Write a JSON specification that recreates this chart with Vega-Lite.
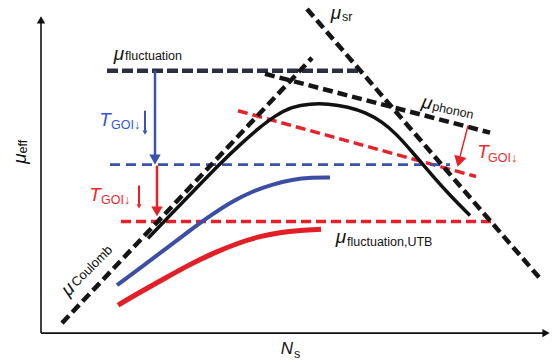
{
  "$schema": "https://vega.github.io/schema/vega-lite/v6.json",
  "width": 552,
  "height": 362,
  "autosize": {"type": "fit", "contains": "padding"},
  "padding": 0,
  "background": "white",
  "view": {"stroke": null},
  "config": {"font": "Liberation Sans"},
  "datasets": {
    "axes": [
      {"id": "y", "Ns": 41, "mu": 29}, {"id": "y", "Ns": 41, "mu": 342},
      {"id": "x", "Ns": 41, "mu": 29}, {"id": "x", "Ns": 546, "mu": 29}
    ],
    "headUp": [{"Ns": 41, "mu": 343}],
    "headRight": [{"Ns": 546, "mu": 29}],
    "fluct": [{"id": "f", "Ns": 107, "mu": 292}, {"id": "f", "Ns": 360, "mu": 292}],
    "blackDashed": [
      {"id": "coulomb", "Ns": 62, "mu": 39}, {"id": "coulomb", "Ns": 312, "mu": 305},
      {"id": "sr", "Ns": 307, "mu": 354}, {"id": "sr", "Ns": 539, "mu": 85},
      {"id": "phonon", "Ns": 265, "mu": 289}, {"id": "phonon", "Ns": 490, "mu": 230}
    ],
    "blueDashed": [{"id": "b", "Ns": 110, "mu": 198}, {"id": "b", "Ns": 450, "mu": 198}],
    "redDashed": [
      {"id": "h", "Ns": 121, "mu": 141}, {"id": "h", "Ns": 493, "mu": 141},
      {"id": "s", "Ns": 238, "mu": 252}, {"id": "s", "Ns": 476, "mu": 186}
    ],
    "blackCurve": [
      {"Ns": 148, "mu": 124}, {"Ns": 170, "mu": 147}, {"Ns": 195, "mu": 173}, {"Ns": 220, "mu": 199},
      {"Ns": 240, "mu": 218}, {"Ns": 258, "mu": 234}, {"Ns": 275, "mu": 247}, {"Ns": 292, "mu": 256},
      {"Ns": 310, "mu": 259}, {"Ns": 328, "mu": 259}, {"Ns": 348, "mu": 256}, {"Ns": 366, "mu": 250},
      {"Ns": 382, "mu": 241}, {"Ns": 396, "mu": 229}, {"Ns": 412, "mu": 211}, {"Ns": 433, "mu": 186},
      {"Ns": 452, "mu": 165}, {"Ns": 470, "mu": 147}
    ],
    "blueCurve": [
      {"Ns": 117, "mu": 77}, {"Ns": 140, "mu": 94}, {"Ns": 165, "mu": 113}, {"Ns": 190, "mu": 132},
      {"Ns": 212, "mu": 148}, {"Ns": 232, "mu": 161}, {"Ns": 252, "mu": 171}, {"Ns": 272, "mu": 178},
      {"Ns": 292, "mu": 183}, {"Ns": 312, "mu": 185}, {"Ns": 330, "mu": 185}
    ],
    "redCurve": [
      {"Ns": 118, "mu": 57}, {"Ns": 140, "mu": 70}, {"Ns": 165, "mu": 84}, {"Ns": 190, "mu": 98},
      {"Ns": 215, "mu": 110}, {"Ns": 240, "mu": 120}, {"Ns": 260, "mu": 126}, {"Ns": 280, "mu": 130},
      {"Ns": 300, "mu": 132}, {"Ns": 321, "mu": 133}
    ],
    "blueArrows": [
      {"id": "big", "Ns": 155, "mu": 292}, {"id": "big", "Ns": 155, "mu": 206},
      {"id": "small", "Ns": 145, "mu": 252}, {"id": "small", "Ns": 145, "mu": 232}
    ],
    "blueHeadBig": [{"Ns": 155, "mu": 203}],
    "blueHeadSmall": [{"Ns": 145, "mu": 230}],
    "redArrows": [
      {"id": "big", "Ns": 157, "mu": 197}, {"id": "big", "Ns": 157, "mu": 154},
      {"id": "small", "Ns": 139, "mu": 177}, {"id": "small", "Ns": 139, "mu": 158},
      {"id": "right", "Ns": 468, "mu": 237}, {"id": "right", "Ns": 460, "mu": 206}
    ],
    "redHeadBig": [{"Ns": 157, "mu": 151}],
    "redHeadSmall": [{"Ns": 139, "mu": 156}],
    "redHeadRight": [{"Ns": 459, "mu": 201}],
    "muLabels": [
      {"t": "μ", "Ns": 119, "mu": 309},
      {"t": "μ", "Ns": 336, "mu": 350},
      {"t": "μ", "Ns": 341, "mu": 125}
    ],
    "subLabels": [
      {"t": "fluctuation", "Ns": 125, "mu": 307},
      {"t": "sr", "Ns": 342, "mu": 346},
      {"t": "fluctuation,UTB", "Ns": 347, "mu": 120}
    ],
    "phononMu": [{"t": "μ", "Ns": 427, "mu": 260}],
    "phononSub": [{"t": "phonon", "Ns": 453, "mu": 252}],
    "coulMu": [{"t": "μ", "Ns": 68, "mu": 73}],
    "coulSub": [{"t": "Coulomb", "Ns": 92, "mu": 96}],
    "effMu": [{"t": "μ", "Ns": 20, "mu": 204}],
    "effSub": [{"t": "eff", "Ns": 23, "mu": 216}],
    "nLabel": [{"t": "N", "Ns": 287, "mu": 13}],
    "sLabel": [{"t": "s", "Ns": 297, "mu": 8}],
    "tLabels": [
      {"t": "T", "c": "blue", "Ns": 105, "mu": 243},
      {"t": "T", "c": "red", "Ns": 95, "mu": 167},
      {"t": "T", "c": "red", "Ns": 483, "mu": 211}
    ],
    "goiLabels": [
      {"t": "GOI↓", "c": "blue", "Ns": 111, "mu": 238},
      {"t": "GOI↓", "c": "red", "Ns": 101, "mu": 162},
      {"t": "GOI↓", "c": "red", "Ns": 488, "mu": 205}
    ]
  },
  "encoding": {
    "x": {"field": "Ns", "type": "quantitative", "scale": {"domain": [0, 552], "nice": false, "zero": false}, "axis": null},
    "y": {"field": "mu", "type": "quantitative", "scale": {"domain": [0, 362], "nice": false, "zero": false}, "axis": null}
  },
  "layer": [
    {"data": {"name": "axes"}, "mark": {"type": "line", "color": "#111111", "strokeWidth": 1.6}, "encoding": {"detail": {"field": "id"}}},
    {"data": {"name": "headUp"}, "mark": {"type": "point", "shape": "triangle-up", "filled": true, "color": "#111111", "size": 70, "opacity": 1}, "encoding": {}},
    {"data": {"name": "headRight"}, "mark": {"type": "point", "shape": "triangle-right", "filled": true, "color": "#111111", "size": 70, "opacity": 1}, "encoding": {}},
    {"data": {"name": "redDashed"}, "mark": {"type": "line", "color": "#e8202a", "strokeWidth": 3.5, "strokeDash": [10, 5]}, "encoding": {"detail": {"field": "id"}}},
    {"data": {"name": "blueDashed"}, "mark": {"type": "line", "color": "#3a52b0", "strokeWidth": 2.8, "strokeDash": [10, 6]}, "encoding": {"detail": {"field": "id"}}},
    {"data": {"name": "blueCurve"}, "mark": {"type": "line", "color": "#3b4ea6", "strokeWidth": 4, "interpolate": "basis"}, "encoding": {}},
    {"data": {"name": "redCurve"}, "mark": {"type": "line", "color": "#e41e26", "strokeWidth": 5, "interpolate": "basis"}, "encoding": {}},
    {"data": {"name": "blackCurve"}, "mark": {"type": "line", "color": "#111111", "strokeWidth": 3.5, "interpolate": "basis"}, "encoding": {}},
    {"data": {"name": "fluct"}, "mark": {"type": "line", "color": "#2b2f45", "strokeWidth": 4.5, "strokeDash": [11, 4]}, "encoding": {"detail": {"field": "id"}}},
    {"data": {"name": "blackDashed"}, "mark": {"type": "line", "color": "#151515", "strokeWidth": 4.5, "strokeDash": [10, 5]}, "encoding": {"detail": {"field": "id"}}},
    {"data": {"name": "blueArrows"}, "mark": {"type": "line", "color": "#3a52b0"}, "encoding": {"detail": {"field": "id"}, "strokeWidth": {"field": "id", "type": "nominal", "scale": {"domain": ["big", "small"], "range": [2.5, 1.5]}, "legend": null}}},
    {"data": {"name": "blueHeadBig"}, "mark": {"type": "point", "shape": "triangle-down", "filled": true, "color": "#3a52b0", "size": 130, "opacity": 1}, "encoding": {}},
    {"data": {"name": "blueHeadSmall"}, "mark": {"type": "point", "shape": "triangle-down", "filled": true, "color": "#3a52b0", "size": 25, "opacity": 1}, "encoding": {}},
    {"data": {"name": "redArrows"}, "mark": {"type": "line", "color": "#e8202a"}, "encoding": {"detail": {"field": "id"}, "strokeWidth": {"field": "id", "type": "nominal", "scale": {"domain": ["big", "small", "right"], "range": [2.5, 1.5, 3.5]}, "legend": null}}},
    {"data": {"name": "redHeadBig"}, "mark": {"type": "point", "shape": "triangle-down", "filled": true, "color": "#e8202a", "size": 130, "opacity": 1}, "encoding": {}},
    {"data": {"name": "redHeadSmall"}, "mark": {"type": "point", "shape": "triangle-down", "filled": true, "color": "#e8202a", "size": 25, "opacity": 1}, "encoding": {}},
    {"data": {"name": "redHeadRight"}, "mark": {"type": "point", "shape": "triangle-down", "filled": true, "color": "#e8202a", "size": 160, "opacity": 1, "angle": 15}, "encoding": {}},
    {"data": {"name": "muLabels"}, "mark": {"type": "text", "fontSize": 19, "fontStyle": "italic", "color": "#111111", "align": "center", "baseline": "middle"}, "encoding": {"text": {"field": "t"}}},
    {"data": {"name": "subLabels"}, "mark": {"type": "text", "fontSize": 12.5, "color": "#111111", "align": "left", "baseline": "middle"}, "encoding": {"text": {"field": "t"}}},
    {"data": {"name": "phononMu"}, "mark": {"type": "text", "fontSize": 19, "fontStyle": "italic", "color": "#111111", "align": "center", "baseline": "middle", "angle": 12}, "encoding": {"text": {"field": "t"}}},
    {"data": {"name": "phononSub"}, "mark": {"type": "text", "fontSize": 12.5, "color": "#111111", "align": "center", "baseline": "middle", "angle": 12}, "encoding": {"text": {"field": "t"}}},
    {"data": {"name": "coulMu"}, "mark": {"type": "text", "fontSize": 19, "fontStyle": "italic", "color": "#111111", "align": "center", "baseline": "middle", "angle": -45}, "encoding": {"text": {"field": "t"}}},
    {"data": {"name": "coulSub"}, "mark": {"type": "text", "fontSize": 13, "color": "#111111", "align": "center", "baseline": "middle", "angle": -45}, "encoding": {"text": {"field": "t"}}},
    {"data": {"name": "effMu"}, "mark": {"type": "text", "fontSize": 19, "fontStyle": "italic", "color": "#111111", "align": "center", "baseline": "middle", "angle": -90}, "encoding": {"text": {"field": "t"}}},
    {"data": {"name": "effSub"}, "mark": {"type": "text", "fontSize": 12.5, "color": "#111111", "align": "center", "baseline": "middle", "angle": -90}, "encoding": {"text": {"field": "t"}}},
    {"data": {"name": "nLabel"}, "mark": {"type": "text", "fontSize": 17, "fontStyle": "italic", "color": "#111111", "align": "center", "baseline": "middle"}, "encoding": {"text": {"field": "t"}}},
    {"data": {"name": "sLabel"}, "mark": {"type": "text", "fontSize": 12.5, "color": "#111111", "align": "center", "baseline": "middle"}, "encoding": {"text": {"field": "t"}}},
    {"data": {"name": "tLabels"}, "mark": {"type": "text", "fontSize": 19, "fontStyle": "italic", "align": "center", "baseline": "middle"}, "encoding": {"text": {"field": "t"}, "color": {"field": "c", "type": "nominal", "scale": {"domain": ["blue", "red"], "range": ["#3355dd", "#ee2a2a"]}, "legend": null}}},
    {"data": {"name": "goiLabels"}, "mark": {"type": "text", "fontSize": 12.5, "align": "left", "baseline": "middle"}, "encoding": {"text": {"field": "t"}, "color": {"field": "c", "type": "nominal", "scale": {"domain": ["blue", "red"], "range": ["#3355dd", "#ee2a2a"]}, "legend": null}}}
  ]
}
